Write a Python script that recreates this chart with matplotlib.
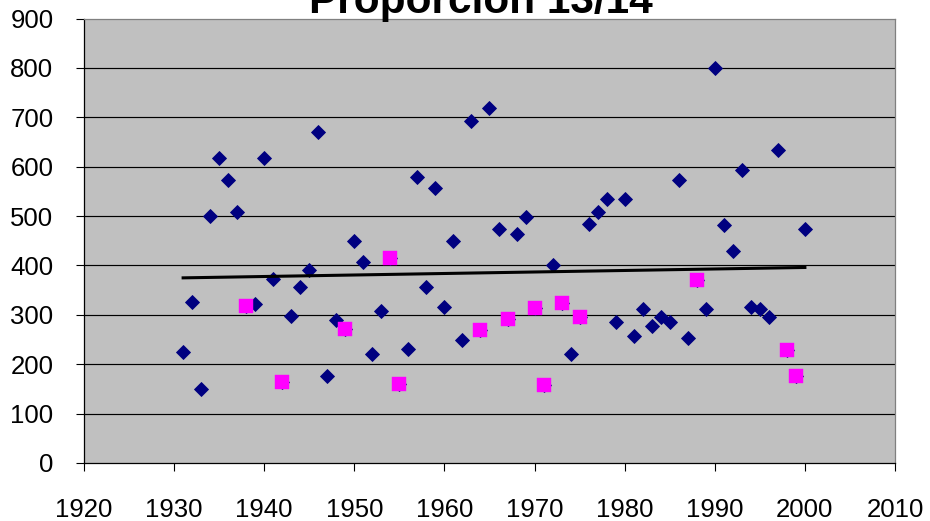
import numpy as np
import matplotlib
matplotlib.use("Agg")
import matplotlib.pyplot as plt

plt.rcParams['font.family'] = ['Liberation Sans', 'DejaVu Sans']

years = list(range(1931, 2001))
values = [225, 325, 149, 501, 617, 572, 508, 317, 322, 617,
          372, 164, 298, 356, 390, 671, 176, 289, 272, 450,
          407, 220, 308, 415, 160, 230, 580, 356, 556, 316,
          450, 250, 692, 269, 719, 474, 292, 464, 498, 313,
          157, 400, 324, 220, 296, 484, 508, 535, 285, 535,
          257, 311, 277, 296, 285, 572, 254, 371, 311, 799,
          481, 430, 593, 316, 312, 295, 634, 228, 177, 474]
highlight_years = [1938, 1942, 1949, 1954, 1955, 1964, 1967, 1970, 1971,
                   1973, 1975, 1988, 1998, 1999]
title = "Proporción 13/14"
x_ticks = [1920, 1930, 1940, 1950, 1960, 1970, 1980, 1990, 2000, 2010]
y_ticks = [0, 100, 200, 300, 400, 500, 600, 700, 800, 900]

yr = np.array(years)
val = np.array(values)
hl_vals = [values[years.index(y)] for y in highlight_years]

fig = plt.figure(figsize=(9.3, 5.21), dpi=100)
W, H = 930, 521
ax = fig.add_axes([84 / W, 1 - 463 / H, (895 - 84) / W, (463 - 18.5) / H])
ax.set_facecolor('#C0C0C0')

for yt in y_ticks[1:-1]:
    ax.axhline(yt, color='black', lw=0.85, zorder=1)

ax.plot(yr, val, linestyle='none', marker='D', markersize=7.2,
        color='#000080', markeredgecolor='#000080', markeredgewidth=0.6, zorder=3)
ax.plot(highlight_years, hl_vals, linestyle='none', marker='s', markersize=9.7,
        color='#FF00FF', markeredgecolor='#FF00FF', markeredgewidth=0.3, zorder=4)

coef = np.polyfit(yr, val, 1)
ax.plot([yr[0], yr[-1]], np.polyval(coef, [yr[0], yr[-1]]),
        color='black', lw=2.2, zorder=5)

ax.set_xlim(1920, 2010)
ax.set_ylim(0, 900)
ax.set_xticks(x_ticks)
ax.set_yticks(y_ticks)
ax.tick_params(axis='both', direction='out', length=6, width=0.8,
               labelsize=18.5, colors='black')
ax.tick_params(axis='x', pad=19)
ax.tick_params(axis='y', pad=16)
for s in ['left', 'bottom']:
    ax.spines[s].set_color('black')
    ax.spines[s].set_linewidth(0.9)
for s in ['top', 'right']:
    ax.spines[s].set_color('#808080')
    ax.spines[s].set_linewidth(0.9)

fig.text(481 / W, 1 - 12.5 / H, title, ha='center', va='baseline',
         fontsize=30.5, fontweight='bold')

fig.savefig('out.png', dpi=100)
